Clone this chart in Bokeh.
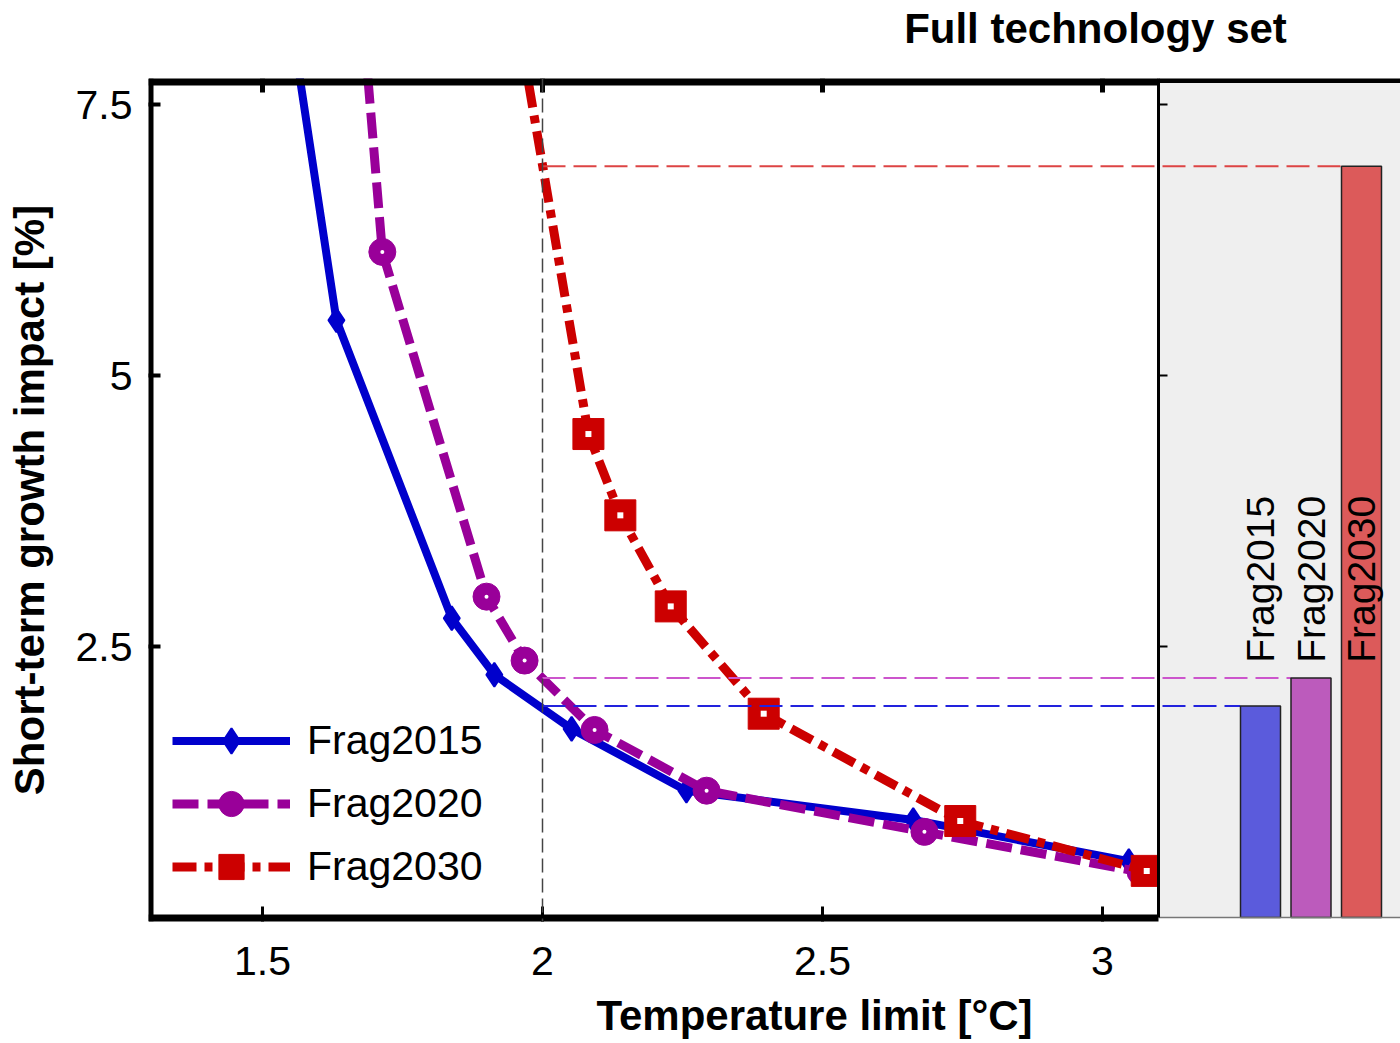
import math
from bokeh.plotting import figure
from bokeh.models import (Range1d, FixedTicker, Span, Legend, LegendItem, LinearAxis,
                          ColumnDataSource)
from bokeh.embed import file_html
from bokeh.resources import INLINE
from bokeh.core.properties import value

# ---------------- data ----------------
series_names = ["Frag2015", "Frag2020", "Frag2030"]
frag2015_x = [1.53, 1.632, 1.838, 1.914, 2.052, 2.257, 2.662, 3.047]
frag2015_y = [9.0, 5.51, 2.76, 2.24, 1.74, 1.17, 0.90, 0.52]
frag2020_x = [1.652, 1.714, 1.900, 1.968, 2.093, 2.293, 2.682, 3.068]
frag2020_y = [10.0, 6.14, 2.96, 2.37, 1.73, 1.17, 0.79, 0.42]
frag2030_x = [1.932, 2.082, 2.139, 2.229, 2.395, 2.746, 3.079]
frag2030_y = [9.0, 4.46, 3.71, 2.87, 1.88, 0.89, 0.43]
bar_values = [1.95, 2.21, 6.93]          # impact at the 2 degC limit
target_limit = 2.0
x_ticks = [1.5, 2.0, 2.5, 3.0]
y_ticks = [2.5, 5.0, 7.5]
title_text = "Full technology set"
x_label = "Temperature limit [°C]"
y_label = "Short-term growth impact [%]"

# ---------------- style / layout ----------------
FONT = "Liberation Sans"
line_cols = ["#0000cc", "#990099", "#cc0000"]
ref_cols = ["#2222dd", "#cc55cc", "#dd4444"]
bar_cols = ["#5b5bdc", "#bc5bbc", "#dc5a5a"]

PX = 560.0                      # pixels per degC
LEFT = 148
XMIN = 1.5 - 114 / PX
MAIN_RIGHT = 3.1
FRAME_W = 1252
XMAX = XMIN + FRAME_W / PX
YPX = 108.4
YMIN = -4 / YPX
YMAX = 7.5 + 26 / YPX

p = figure(width=LEFT + FRAME_W, height=1043, output_backend="svg", toolbar_location=None,
           x_range=Range1d(XMIN, XMAX), y_range=Range1d(YMIN, YMAX),
           min_border_left=LEFT, min_border_right=0, min_border_top=78,
           min_border_bottom=122)
p.outline_line_color = None
p.grid.visible = False
p.background_fill_color = "white"

# axes
xa = p.xaxis[0]
xa.ticker = FixedTicker(ticks=x_ticks)
xa.major_label_overrides = {1.5: "1.5", 2.0: "2", 2.5: "2.5", 3.0: "3"}
xa.axis_line_color = None
xa.major_tick_in = 15
xa.major_tick_out = 0
xa.major_tick_line_width = 3
xa.minor_tick_line_color = None
xa.major_label_text_font = FONT
xa.major_label_text_font_size = "41px"
xa.major_label_text_color = "black"
xa.major_label_standoff = 25

ya = p.yaxis[0]
ya.ticker = FixedTicker(ticks=y_ticks)
ya.major_label_overrides = {2.5: "2.5", 5.0: "5", 7.5: "7.5"}
ya.axis_line_color = None
ya.major_tick_in = 12
ya.major_tick_out = 0
ya.major_tick_line_width = 4
ya.minor_tick_line_color = None
ya.major_label_text_font = FONT
ya.major_label_text_font_size = "41px"
ya.major_label_text_color = "black"
ya.major_label_standoff = 16
ya.axis_label = y_label
ya.axis_label_text_font = FONT
ya.axis_label_text_font_style = "bold"
ya.axis_label_text_font_size = "42px"
ya.axis_label_text_color = "black"
ya.axis_label_standoff = 20


def text_axis(text, centre_px, standoff):
    pos = XMIN + (centre_px - LEFT) / PX
    ax = LinearAxis(ticker=FixedTicker(ticks=[pos]), major_label_overrides={pos: text},
                    axis_line_color=None, major_tick_line_color=None,
                    minor_tick_line_color=None, major_tick_in=0, major_tick_out=0,
                    major_label_standoff=standoff, major_label_text_font=FONT,
                    major_label_text_font_style="bold", major_label_text_font_size="42px",
                    major_label_text_color="black")
    return ax


p.add_layout(text_axis(title_text, 1095, 27), "above")
p.add_layout(text_axis(x_label, 814, 14), "below")

# ---------------- series ----------------
xs = [frag2015_x, frag2020_x, frag2030_x]
ys = [frag2015_y, frag2020_y, frag2030_y]
dashes = ["solid", "26 9", "24 8 8 8"]
widths = [8, 9, 9]
legend_items = []
for i in range(3):
    src = ColumnDataSource(dict(x=xs[i], y=ys[i]))
    rl = p.line("x", "y", source=src, line_color=line_cols[i], line_width=widths[i],
                line_dash=dashes[i])
    rend = [rl]
    if i == 0:
        rm = p.scatter("x", "y", source=src, marker="diamond", size=24,
                       fill_color=line_cols[i], line_color=line_cols[i], line_width=2)
        rend.append(rm)
    elif i == 1:
        rm = p.scatter("x", "y", source=src, marker="circle", size=27,
                       fill_color=line_cols[i], line_color=line_cols[i])
        p.scatter("x", "y", source=src, marker="circle", size=4,
                  fill_color="white", line_color=None)
        rend.append(rm)
    else:
        rm = p.scatter("x", "y", source=src, marker="square", size=31,
                       fill_color=line_cols[i], line_color=line_cols[i])
        p.scatter("x", "y", source=src, marker="square", size=6,
                  fill_color="white", line_color=None)
        rend.append(rm)
    legend_items.append(LegendItem(label=series_names[i], renderers=rend))

# ---------------- right panel (values at the 2 degC limit) ----------------
p.quad(left=[MAIN_RIGHT], right=[XMAX], bottom=[0], top=[YMAX],
       fill_color="#efefef", line_color=None)

bar_w = 40 / PX
bar_x = [MAIN_RIGHT + (102 + 50.5 * i) / PX for i in range(3)]
for i in range(3):
    p.segment(x0=[target_limit], x1=[bar_x[i] - bar_w / 2], y0=[bar_values[i]],
              y1=[bar_values[i]], line_color=ref_cols[i], line_width=2, line_dash="23 8")
p.vbar(x=bar_x, width=bar_w, bottom=0, top=bar_values, fill_color=bar_cols,
       line_color="#222222", line_width=1.5)
p.text(x=bar_x, y=[2.35] * 3, text=series_names, angle=math.pi / 2,
       text_font=value(FONT), text_font_size="39px", text_align="left",
       text_baseline="middle", text_color="black")

# vertical reference line at the target limit
p.add_layout(Span(location=target_limit, dimension="height", line_color="#444444",
                  line_width=1.5, line_dash="14 6"))

# ---------------- frame borders & extra ticks ----------------
p.segment(x0=[XMIN], x1=[XMIN], y0=[YMIN], y1=[YMAX], line_color="black", line_width=10)
p.segment(x0=[XMIN], x1=[MAIN_RIGHT], y0=[YMAX], y1=[YMAX], line_color="black", line_width=14)
p.segment(x0=[MAIN_RIGHT], x1=[XMAX], y0=[YMAX], y1=[YMAX], line_color="black", line_width=9)
p.segment(x0=[XMIN], x1=[MAIN_RIGHT], y0=[YMIN], y1=[YMIN], line_color="black", line_width=14)
p.segment(x0=[MAIN_RIGHT], x1=[XMAX], y0=[0], y1=[0], line_color="#777777", line_width=1.5)
p.segment(x0=[MAIN_RIGHT], x1=[MAIN_RIGHT], y0=[0], y1=[YMAX], line_color="black", line_width=3)
p.ray(x=x_ticks, y=[YMAX] * 4, length=14, length_units="screen", angle=-math.pi / 2,
      line_color="black", line_width=5)
p.ray(x=[MAIN_RIGHT] * 3, y=y_ticks, length=9, length_units="screen", angle=0,
      line_color="black", line_width=2)

legend = Legend(items=legend_items, location=(24, 23), orientation="vertical",
                glyph_width=118, glyph_height=63, label_height=44, spacing=0,
                label_standoff=17, padding=0, margin=0, border_line_color=None,
                background_fill_alpha=0, label_text_font=FONT,
                label_text_font_size="41px", label_text_color="black")
p.add_layout(legend)

open("out.html", "w").write(file_html(p, INLINE))
